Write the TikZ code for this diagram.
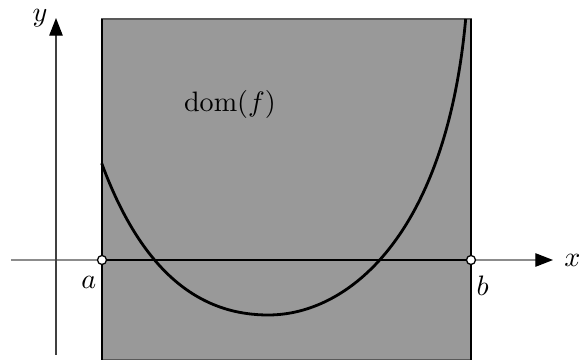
\documentclass[tikz,border=0pt]{standalone}
\usepackage{amsmath}
\usetikzlibrary{arrows.meta, positioning}
\definecolor{domgray}{HTML}{999999}

\begin{document}
\begin{tikzpicture}[
			x=0.5cm, y=0.5cm,
			axis/.style={line width=0.45pt, -{Triangle[length=6.3pt, width=4.8pt, color=black]}},
			edge/.style={draw=black, line width=0.6pt},
			hole/.style={circle, draw=black, fill=white, line width=0.45pt,
				inner sep=0pt, minimum size=3.2pt}
			]
			\useasboundingbox (-1.4,-2.5) rectangle (13.125,6.5);

			\coordinate (a) at (1.15,0);
			\coordinate (b) at (10.375,0);
			\coordinate (xmin) at (-1.125,0);
			\coordinate (xmax) at (12.425,0);
			\coordinate (ymin) at (0,-2.375);
			\coordinate (ymax) at (0,6.05);
			\coordinate (fstart) at (1.142,2.418);
			\coordinate (fmin) at (5.308,-1.375);
			\coordinate (fend) at (10.242,6.025);

			% domain
			\filldraw[fill=domgray, draw=black!65, line width=0.6pt] (1.15,-2.5) rectangle (10.375,6.025);
			\draw[edge] (1.15,-2.5) -- (1.15,6.025);
			\draw[edge] (10.375,-2.5) -- (10.375,6.025);
			\node (dom) at (4.35,3.9) {$\operatorname{dom}(f)$};

			% axes
			\draw[axis, draw=black!45] (xmin) -- (xmax);
			\draw[axis, draw=black!75] (ymin) -- (ymax);
			\node[right=0.5pt of xmax] (xlab) {$x$};
			\node[left=-0.5pt of ymax] (ylab) {$y$};

			\draw[line width=1pt] (a) -- (b);

			\draw[line width=1pt] (fstart) .. controls (2.2,-0.45) and (3.7,-1.375) .. (fmin)
				.. controls (7.3,-1.375) and (9.75,0.6) .. (fend);

			\node[hole] (pa) at (a) {};
			\node[hole] (pb) at (b) {};
			\node[below left=1pt and -2.8pt of pa] (alab) {$a$};
			\node[below right=1pt and -2.8pt of pb] (blab) {$b$};

		\end{tikzpicture}
\end{document}
